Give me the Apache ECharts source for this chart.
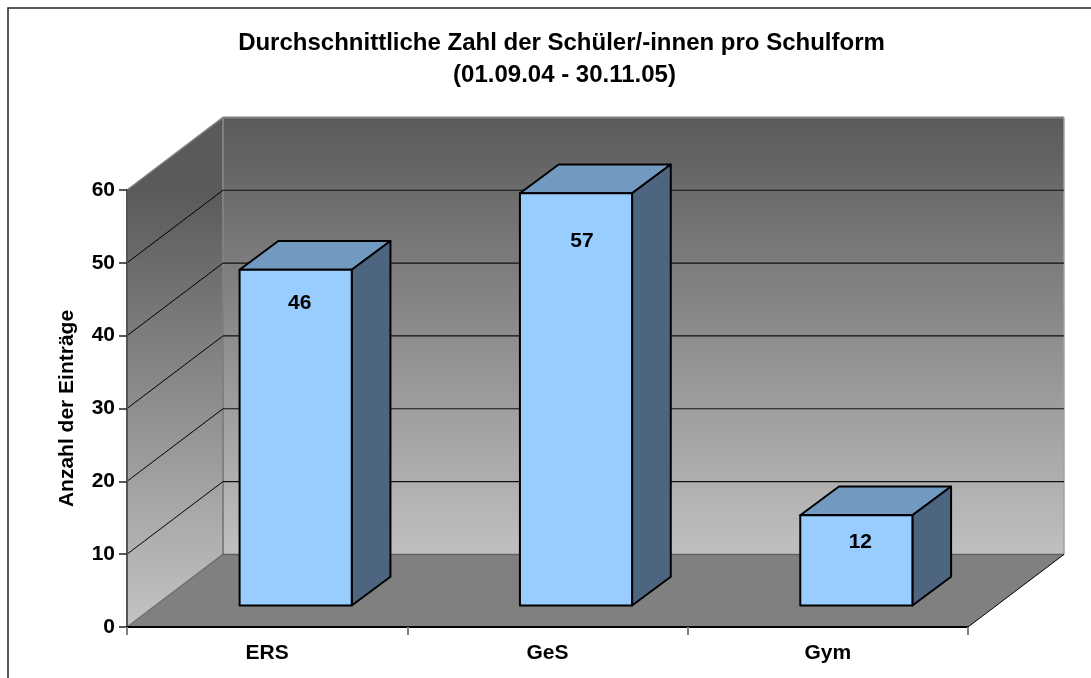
<!DOCTYPE html>
<html>
<head>
<meta charset="utf-8">
<style>html,body{margin:0;background:#fff}#main{width:1091px;height:678px}</style>
<script src="https://cdn.jsdelivr.net/npm/echarts@6/dist/echarts.min.js"></script>
</head>
<body>
<div id="main"></div>
<script>
var categories = ['ERS', 'GeS', 'Gym'];
var values = [46.1, 56.6, 12.4];
var gridValues = [10, 20, 30, 40, 50];

var font = '"Liberation Sans", Arial, sans-serif';
// Pseudo 3D offsets in pixels
var wallDx = 96, wallDy = -72.6;
var barDx = 28.5, barDy = -21.5;
var depthDx = 38.7, depthDy = -28.7;
// Excel placed the labels by hand, so they sit differently on each bar
var labelDrop = [33, 48, 27];
var labelShift = [4, 6, 4];

function poly(pts, fill, z2) {
    return {
        type: 'polygon',
        shape: { points: pts },
        style: { fill: fill, stroke: null },
        z2: z2 || 0
    };
}
function line(a, b, color, width, z2) {
    return {
        type: 'line',
        shape: { x1: a[0], y1: a[1], x2: b[0], y2: b[1] },
        style: { stroke: color, lineWidth: width },
        z2: z2 || 1
    };
}

// back wall, side wall and floor
function renderRoom(params, api) {
    var left = params.coordSys.x;
    var right = left + params.coordSys.width;
    var top = api.coord([0, 60])[1];
    var bottom = api.coord([0, 0])[1];
    var backTop = top + wallDy, backBottom = bottom + wallDy;
    var backLeft = left + wallDx, backRight = right + wallDx;
    var wallFill = {
        type: 'linear', global: true, x: 0, y: backTop, x2: 0, y2: backBottom,
        colorStops: [{ offset: 0, color: '#5a5a5a' }, { offset: 1, color: '#c0c0c0' }]
    };
    var sideFill = {
        type: 'linear', global: true, x: 0, y: top, x2: 0, y2: bottom,
        colorStops: [{ offset: 0, color: '#5a5a5a' }, { offset: 1, color: '#c4c4c4' }]
    };
    return {
        type: 'group',
        children: [
            poly([[backLeft, backTop], [backRight, backTop], [backRight, backBottom], [backLeft, backBottom]], wallFill),
            poly([[left, top], [backLeft, backTop], [backLeft, backBottom], [left, bottom]], sideFill),
            poly([[left, bottom], [right, bottom], [backRight, backBottom], [backLeft, backBottom]], '#808080'),
            line([left, top], [backLeft, backTop], '#808080', 1.5),
            line([backLeft, backTop], [backRight, backTop], '#808080', 2),
            line([backRight, backTop], [backRight, backBottom], '#a0a0a0', 1.5),
            line([backLeft, backTop], [backLeft, backBottom], '#808080', 2),
            line([backLeft, backBottom], [backRight, backBottom], '#606060', 1.5),
            line([left, bottom], [backLeft, backBottom], '#707070', 1.5),
            line([right, bottom], [backRight, backBottom], '#000', 1)
        ]
    };
}

function renderGrid(params, api) {
    var left = params.coordSys.x;
    var right = left + params.coordSys.width;
    var y = api.coord([0, api.value(0)])[1];
    return {
        type: 'group',
        children: [
            line([left, y], [left + wallDx, y + wallDy], '#000', 1),
            line([left + wallDx, y + wallDy], [right + wallDx, y + wallDy], '#111', 1.2)
        ]
    };
}

function renderBar(params, api) {
    var i = api.value(0);
    var v = api.value(1);
    var w = api.size([1, 0])[0] * 0.4;
    var top = api.coord([i, v]);
    var base = api.coord([i, 0]);
    var x0 = top[0] - w / 2 + barDx, x1 = x0 + w;
    var y0 = top[1] + barDy, y1 = base[1] + barDy;
    var edge = { stroke: '#000', lineWidth: 2, lineJoin: 'round' };
    return {
        type: 'group',
        children: [
            { type: 'polygon', shape: { points: [[x0, y0], [x0 + depthDx, y0 + depthDy], [x1 + depthDx, y0 + depthDy], [x1, y0]] }, style: Object.assign({ fill: '#7299bf' }, edge) },
            { type: 'polygon', shape: { points: [[x1, y0], [x1 + depthDx, y0 + depthDy], [x1 + depthDx, y1 + depthDy], [x1, y1]] }, style: Object.assign({ fill: '#4d6580' }, edge) },
            { type: 'rect', shape: { x: x0, y: y0, width: w, height: y1 - y0 }, style: Object.assign({ fill: '#99ccff' }, edge) },
            {
                type: 'text',
                z2: 5,
                style: {
                    x: x0 + w / 2 + labelShift[params.dataIndex], y: y0 + labelDrop[params.dataIndex],
                    text: String(Math.round(v)),
                    fill: '#000', font: 'bold 21px ' + font,
                    textAlign: 'center', textVerticalAlign: 'middle'
                }
            }
        ]
    };
}

var myChart = echarts.init(document.getElementById('main'));

var option = {
    animation: false,
    backgroundColor: '#fff',
    title: [
        { text: 'Durchschnittliche Zahl der Schüler/-innen pro Schulform', left: 556.5, top: 26, textAlign: 'center', textStyle: { fontFamily: font, fontWeight: 'bold', fontSize: 24, color: '#000' } },
        { text: '(01.09.04 - 30.11.05)', left: 559.5, top: 58, textAlign: 'center', textStyle: { fontFamily: font, fontWeight: 'bold', fontSize: 24, color: '#000' } }
    ],
    graphic: [{
        type: 'polyline',
        silent: true,
        shape: { points: [[8, 678], [8, 8], [1091, 8]] },
        style: { stroke: '#222', lineWidth: 1.5, fill: null }
    }],
    grid: { left: 127, right: 123, top: 190, bottom: 51 },
    xAxis: {
        type: 'category',
        data: categories,
        axisLine: { onZero: false, lineStyle: { color: '#000', width: 2 } },
        axisTick: { show: true, length: 8, lineStyle: { color: '#808080', width: 2 } },
        axisLabel: { margin: 16, color: '#000', fontFamily: font, fontWeight: 'bold', fontSize: 21 },
        z: 20
    },
    yAxis: {
        type: 'value',
        min: 0,
        max: 60,
        interval: 10,
        name: 'Anzahl der Einträge',
        nameLocation: 'middle',
        nameGap: 49,
        nameTextStyle: { fontFamily: font, fontWeight: 'bold', fontSize: 21, color: '#000' },
        axisLine: { show: true, lineStyle: { color: '#555', width: 2 } },
        axisTick: { show: true, length: 8, lineStyle: { color: '#222', width: 1.5 } },
        axisLabel: { margin: 12, padding: [2, 0, 0, 0], color: '#000', fontFamily: font, fontWeight: 'bold', fontSize: 21 },
        splitLine: { show: false },
        z: 20
    },
    series: [
        { type: 'custom', name: 'room', renderItem: renderRoom, data: [0], silent: true, clip: false, z: 1, encode: { y: 0 } },
        { type: 'custom', name: 'grid', renderItem: renderGrid, data: gridValues.map(function (v) { return [v]; }), silent: true, clip: false, z: 2, encode: { y: 0 } },
        { type: 'custom', name: 'Anzahl', renderItem: renderBar, data: categories.map(function (c, i) { return [i, values[i]]; }), clip: false, z: 3, encode: { x: 0, y: 1 } }
    ]
};
myChart.setOption(option);
</script>
</body>
</html>
